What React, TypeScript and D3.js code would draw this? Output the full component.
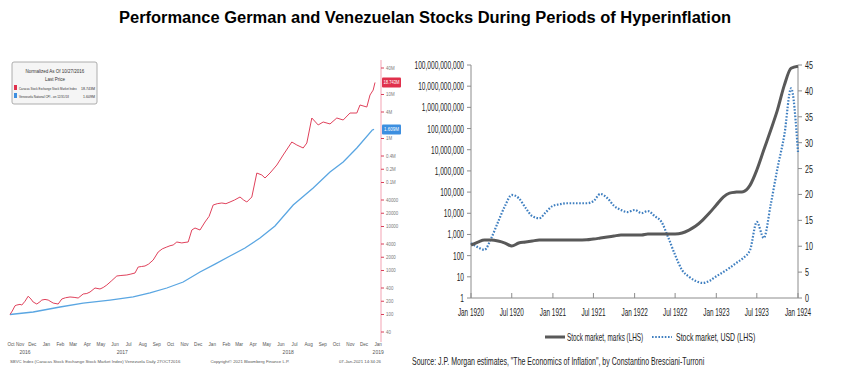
import React from "react";
import * as d3 from "d3";

// ---------- Left chart (Bloomberg, Venezuela) ----------
const caracasIndex: [string, number][] = [
  ["2016-10-27", 100], ["2016-11-01", 120], ["2016-11-07", 158], ["2016-11-11", 164],
  ["2016-11-18", 170], ["2016-11-22", 164], ["2016-11-29", 200], ["2016-12-06", 260],
  ["2016-12-12", 225], ["2016-12-17", 192], ["2016-12-25", 173], ["2017-01-01", 195],
  ["2017-01-05", 213], ["2017-01-12", 220], ["2017-01-19", 213], ["2017-01-30", 182],
  ["2017-02-10", 173], ["2017-02-18", 225], ["2017-02-26", 240], ["2017-03-08", 250],
  ["2017-03-17", 245], ["2017-03-26", 237], ["2017-04-06", 292], ["2017-04-14", 300],
  ["2017-04-21", 324], ["2017-05-02", 400], ["2017-05-13", 380], ["2017-05-20", 410],
  ["2017-05-28", 468], ["2017-06-08", 590], ["2017-06-19", 750], ["2017-06-28", 770],
  ["2017-07-11", 790], ["2017-07-20", 830], ["2017-07-29", 877], ["2017-08-05", 1200],
  ["2017-08-12", 1230], ["2017-08-20", 1265], ["2017-08-28", 1400], ["2017-09-07", 1730],
  ["2017-09-18", 2630], ["2017-09-27", 3100], ["2017-10-07", 3420], ["2017-10-14", 3650],
  ["2017-10-21", 3800], ["2017-10-29", 4440], ["2017-11-09", 4230], ["2017-11-16", 4350],
  ["2017-11-23", 4440], ["2017-12-01", 8320], ["2017-12-08", 9240], ["2017-12-19", 8320],
  ["2017-12-30", 12650], ["2018-01-08", 17000], ["2018-01-17", 30800], ["2018-01-26", 33000],
  ["2018-02-05", 34200], ["2018-02-14", 33000], ["2018-02-23", 36000], ["2018-03-05", 40000],
  ["2018-03-17", 46800], ["2018-03-25", 40000], ["2018-04-01", 36000], ["2018-04-12", 46800],
  ["2018-04-23", 164000], ["2018-05-04", 148000], ["2018-05-11", 126500], ["2018-05-22", 164000],
  ["2018-06-06", 249500], ["2018-06-20", 421700], ["2018-07-09", 832000], ["2018-07-20", 711000],
  ["2018-08-03", 608000], ["2018-08-11", 789000], ["2018-08-22", 2920000], ["2018-09-05", 2030000],
  ["2018-09-16", 2370000], ["2018-10-01", 2140000], ["2018-10-16", 2920000], ["2018-10-30", 2630000],
  ["2018-11-14", 3790000], ["2018-11-29", 3790000], ["2018-12-06", 5770000], ["2018-12-21", 5190000],
  ["2018-12-28", 9730000], ["2019-01-04", 12600000], ["2019-01-08", 18743000],
];

const venezuelaCpi: [string, number][] = [
  ["2016-10-27", 100], ["2016-12-17", 114], ["2017-02-14", 148], ["2017-04-06", 182],
  ["2017-06-04", 213], ["2017-07-25", 250], ["2017-08-31", 308], ["2017-10-07", 400],
  ["2017-11-12", 547], ["2017-12-19", 925], ["2018-01-21", 1400], ["2018-02-23", 2135],
  ["2018-03-28", 3245], ["2018-04-30", 5470], ["2018-06-02", 10260], ["2018-07-12", 30800],
  ["2018-08-25", 75000], ["2018-10-01", 173000], ["2018-10-30", 292000], ["2018-11-29", 608000],
  ["2019-01-02", 1560000], ["2019-01-06", 1609000],
];

// the 20M and 2M labels are hidden behind the last-price tags in the reference
const leftTickValues = [40, 100, 200, 400, 1000, 2000, 4000, 10000, 20000, 40000, 1e5, 2e5, 4e5, 1e6, 4e6, 1e7, 4e7];
const leftTickLabels = ["40", "100", "200", "400", "1000", "2000", "4000", "10000", "20000", "40000", "0.1M", "0.2M", "0.4M", "1M", "4M", "10M", "40M"];
const monthNames = ["Jan", "Feb", "Mar", "Apr", "May", "Jun", "Jul", "Aug", "Sep", "Oct", "Nov", "Dec"];
const yearLabels: [string, string][] = [["2016", "2016-11-29"], ["2017", "2017-07-01"], ["2018", "2018-07-01"], ["2019", "2019-01-15"]];
const redTag = "18.743M";
const blueTag = "1.609M";

// ---------- Right chart (Germany 1920-1924) ----------
const stockMarks = [
  316, 437, 545, 545, 490, 393, 284, 393, 437, 490, 545, 545,
  540, 550, 545, 545, 550, 555, 607, 676, 754, 841, 937, 937,
  940, 935, 1045, 1045, 1040, 1050, 1050, 1165, 1613, 2490, 4780, 10200,
  24400, 58100, 89700, 100000, 105000, 214000, 1.1e6, 9.6e6, 8.3e7, 7.41e8, 1.12e10, 7.07e10,
  8.8e10,
];
const stockUsd = [
  10.6, 9.8, 9.3, 11.6, 14.7, 17.8, 19.9, 19.3, 17.4, 15.8, 15.4, 16.6,
  17.8, 18.1, 18.3, 18.3, 18.3, 18.3, 18.7, 20.1, 19.3, 17.8, 17.0, 16.6,
  17.0, 16.4, 16.8, 15.8, 14.7, 11.6, 8.3, 5.4, 4.1, 3.3, 2.9, 3.3,
  4.2, 5.0, 5.8, 6.8, 7.7, 9.3, 14.7, 11.6, 18.0, 25.0, 31.5, 40.5,
  28.2,
];
const logTicks = [1, 10, 100, 1e3, 1e4, 1e5, 1e6, 1e7, 1e8, 1e9, 1e10, 1e11];
const rightTicks = [0, 5, 10, 15, 20, 25, 30, 35, 40, 45];
const xTickLabels = ["Jan 1920", "Jul 1920", "Jan 1921", "Jul 1921", "Jan 1922", "Jul 1922", "Jan 1923", "Jul 1923", "Jan 1924"];

const FONT = "'Liberation Sans', Arial, sans-serif";

export default function App() {
  const parse = d3.timeParse("%Y-%m-%d");
  // left chart scales
  const xL = d3.scaleTime().domain([parse("2016-10-27")!, parse("2019-01-08")!]).range([10, 375]);
  const yL = d3.scaleLog().domain([40, 4e7]).range([332, 68]);
  const lineL = d3.line<[string, number]>().x((d) => xL(parse(d[0])!)).y((d) => yL(d[1]));
  const months = d3.timeMonth.range(new Date(2016, 10, 1), new Date(2019, 1, 1));

  // right chart scales
  const monthDates = d3.timeMonth.range(new Date(1920, 0, 1), new Date(1924, 0, 2));
  const xR = d3.scaleTime().domain([new Date(1920, 0, 1), new Date(1924, 0, 1)]).range([471, 798]);
  const yLog = d3.scaleLog().domain([1, 1e11]).range([298, 65]);
  const yLin = d3.scaleLinear().domain([0, 45]).range([298, 65]);
  const lineMarks = d3.line<number>().x((_, i) => xR(monthDates[i])).y((d) => yLog(d)).curve(d3.curveMonotoneX);
  const lineUsd = d3.line<number>().x((_, i) => xR(monthDates[i])).y((d) => yLin(d)).curve(d3.curveMonotoneX);
  const xTickDates = xTickLabels.map((_, i) => new Date(1920 + Math.floor(i / 2), (i % 2) * 6, 1));
  const fmt = d3.format(",");

  const redLast = caracasIndex[caracasIndex.length - 1][1];
  const blueLast = venezuelaCpi[venezuelaCpi.length - 1][1];

  return (
    <div style={{ position: "absolute", left: 0, top: 0 }}>
      <svg width={850} height={375} style={{ display: "block", background: "#fff" }} fontFamily={FONT}>
        {/* Title */}
        <text x={425} y={23} textAnchor="middle" fontSize={16} fontWeight="bold" fill="#000" textLength={612} lengthAdjust="spacingAndGlyphs">
          Performance German and Venezuelan Stocks During Periods of Hyperinflation
        </text>

        {/* ===== Left chart ===== */}
        <line x1={381} x2={381} y1={60} y2={342} stroke="#f3a3b3" strokeWidth={1} />
        {leftTickValues.map((v, i) => (
          <g key={"lt" + i}>
            <line x1={381} x2={384} y1={yL(v)} y2={yL(v)} stroke="#d9405a" strokeWidth={1} />
            <text x={0} y={0} fontSize={5.5} fill="#777" transform={`translate(386,${yL(v) + 2}) scale(0.8,1)`}>{leftTickLabels[i]}</text>
          </g>
        ))}
        <path d={lineL(venezuelaCpi) || ""} fill="none" stroke="#5aa6e2" strokeWidth={1.3} />
        <path d={lineL(caracasIndex) || ""} fill="none" stroke="#e0425c" strokeWidth={1} />
        {/* last price tags */}
        <rect x={382} y={yL(redLast) - 5} width={19} height={10} fill="#e0304c" rx={1} />
        <text x={0} y={0} fontSize={5} fill="#fff" transform={`translate(383.5,${yL(redLast) + 2}) scale(0.8,1)`} textLength={20} lengthAdjust="spacingAndGlyphs">{redTag}</text>
        <rect x={382} y={yL(blueLast) - 5} width={19} height={10} fill="#3d8fe0" rx={1} />
        <text x={0} y={0} fontSize={5} fill="#fff" transform={`translate(384,${yL(blueLast) + 2}) scale(0.8,1)`} textLength={18.75} lengthAdjust="spacingAndGlyphs">{blueTag}</text>
        {/* legend box */}
        <rect x={12} y={62} width={85} height={42} fill="#f5f5f5" stroke="#9a9a9a" strokeWidth={0.8} rx={2} />
        <text x={55} y={73} fontSize={4.5} fill="#333" textAnchor="middle">Normalized As Of 10/27/2016</text>
        <text x={55} y={81} fontSize={4.5} fill="#333" textAnchor="middle">Last Price</text>
        <rect x={14} y={85} width={3} height={5} fill="#e0304c" />
        <text x={0} y={0} fontSize={4.3} fill="#333" transform="translate(19,89.5) scale(0.6,1)" textLength={96} lengthAdjust="spacingAndGlyphs">Caracas Stock Exchange Stock Market Index</text>
        <text x={0} y={0} fontSize={4.3} fill="#333" transform="translate(81,89.5) scale(0.7,1)" textLength={20} lengthAdjust="spacingAndGlyphs">{redTag}</text>
        <rect x={14} y={93} width={3} height={5} fill="#3d8fe0" />
        <text x={0} y={0} fontSize={4.3} fill="#333" transform="translate(19,97.5) scale(0.6,1)" textLength={83} lengthAdjust="spacingAndGlyphs">Venezuela National CPI - on 12/31/18</text>
        <text x={0} y={0} fontSize={4.3} fill="#333" transform="translate(83,97.5) scale(0.7,1)" textLength={17} lengthAdjust="spacingAndGlyphs">{blueTag}</text>
        {/* month labels */}
        <text x={11} y={346} fontSize={4.6} fill="#555" textAnchor="middle">Oct</text>
        {months.map((m, i) => (
          <text key={"m" + i} x={xL(d3.timeDay.offset(m, 14)) + (i === 0 ? 1.5 : 0)} y={346} fontSize={4.6} fill="#555" textAnchor="middle">
            {monthNames[m.getMonth()]}
          </text>
        ))}
        {yearLabels.map(([lab, d], i) => (
          <text key={"y" + i} x={xL(parse(d)!)} y={354} fontSize={5} fill="#555" textAnchor="middle">{lab}</text>
        ))}
        <text x={10} y={363} fontSize={4.3} fill="#555">SBVC Index (Caracas Stock Exchange Stock Market Index) Venezuela Daily 27OCT2016</text>
        <text x={250} y={363} fontSize={4.3} fill="#555" textAnchor="middle">Copyright© 2021 Bloomberg Finance L.P.</text>
        <text x={381} y={363} fontSize={4.3} fill="#555" textAnchor="end">07-Jan-2021 14:34:26</text>

        {/* ===== Right chart ===== */}
        <line x1={471} x2={471} y1={65} y2={298} stroke="#8c8c8c" />
        <line x1={798} x2={798} y1={65} y2={298} stroke="#8c8c8c" />
        <line x1={471} x2={798} y1={298} y2={298} stroke="#8c8c8c" />
        {logTicks.map((v, i) => (
          <g key={"lg" + i}>
            <line x1={467} x2={471} y1={yLog(v)} y2={yLog(v)} stroke="#8c8c8c" />
            <text x={0} y={0} fontSize={11} fill="#222" textAnchor="end" transform={`translate(464,${yLog(v) + 4}) scale(0.6,1)`}>
              {fmt(v)}
            </text>
          </g>
        ))}
        {rightTicks.map((v, i) => (
          <g key={"rg" + i}>
            <line x1={798} x2={802} y1={yLin(v)} y2={yLin(v)} stroke="#8c8c8c" />
            <text x={0} y={0} fontSize={11} fill="#222" transform={`translate(805,${yLin(v) + 4}) scale(0.65,1)`}>{v}</text>
          </g>
        ))}
        {xTickDates.map((d, i) => (
          <g key={"xt" + i}>
            <line x1={xR(d)} x2={xR(d)} y1={293} y2={298} stroke="#8c8c8c" />
            <text x={0} y={0} fontSize={11} fill="#222" textAnchor="middle" transform={`translate(${xR(d)},316) scale(0.58,1)`}>
              {xTickLabels[i]}
            </text>
          </g>
        ))}
        <path d={lineUsd(stockUsd) || ""} fill="none" stroke="#3f7fc0" strokeWidth={2.2} strokeDasharray="1.6,1.6" />
        <path d={lineMarks(stockMarks) || ""} fill="none" stroke="#595959" strokeWidth={3} />
        {/* legend */}
        <line x1={545} x2={565} y1={337} y2={337} stroke="#595959" strokeWidth={3} />
        <text x={0} y={0} fontSize={11} fill="#222" transform="translate(567,341) scale(0.6,1)" textLength={127} lengthAdjust="spacingAndGlyphs">Stock market, marks (LHS)</text>
        <line x1={652} x2={672} y1={337} y2={337} stroke="#3f7fc0" strokeWidth={2} strokeDasharray="1.6,1.6" />
        <text x={0} y={0} fontSize={11} fill="#222" transform="translate(676,341) scale(0.6,1)" textLength={132} lengthAdjust="spacingAndGlyphs">Stock market, USD (LHS)</text>
        {/* source */}
        <text x={0} y={0} fontSize={11} fill="#222" transform="translate(412,365) scale(0.61,1)" textLength={479} lengthAdjust="spacingAndGlyphs">
          Source: J.P. Morgan estimates, "The Economics of Inflation", by Constantino Bresciani-Turroni
        </text>
      </svg>
    </div>
  );
}
